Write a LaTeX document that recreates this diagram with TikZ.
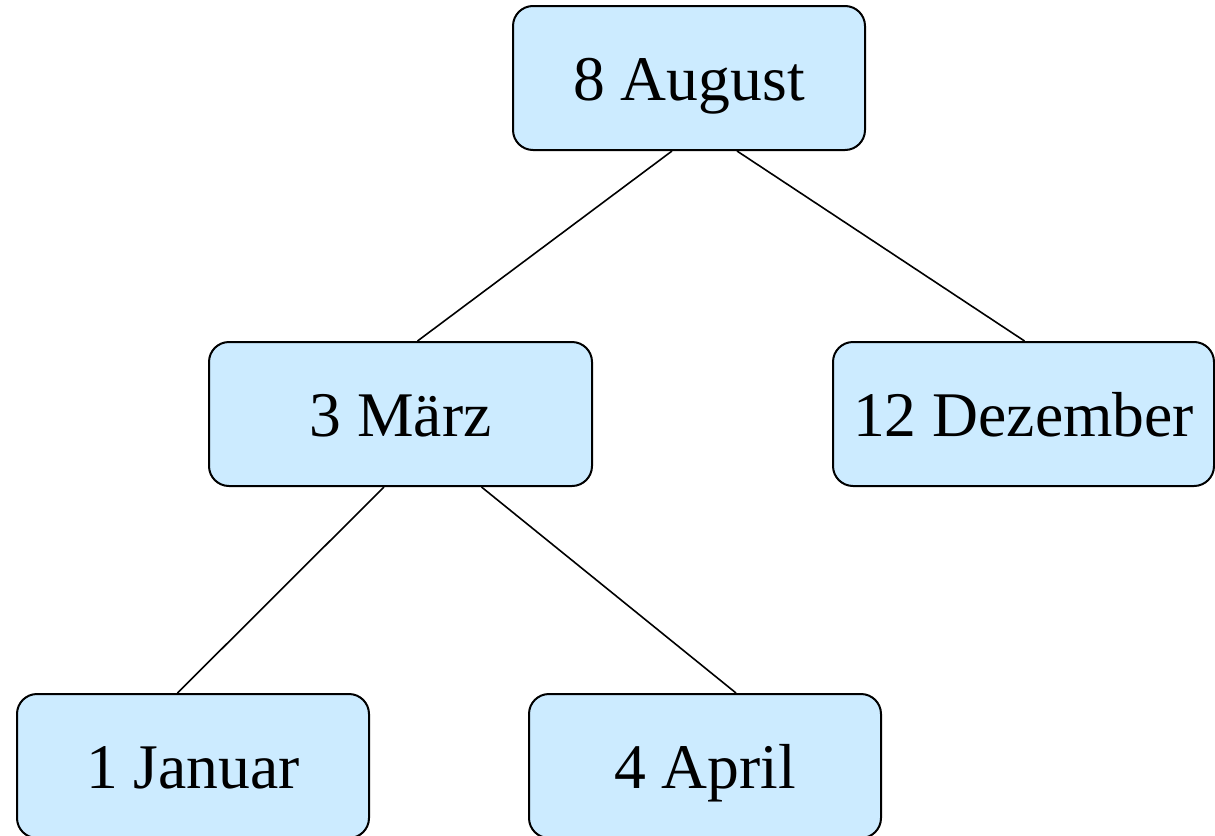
\documentclass[tikz,border=0pt]{standalone}
\usepackage{fontspec}
\setmainfont{Liberation Serif}
\definecolor{boxfill}{RGB}{204,235,255}
\begin{document}
\begin{tikzpicture}[x=0.5pt,y=-0.5pt,
  monthbox/.style={draw=black, line width=1pt, fill=boxfill, rounded corners=10pt,
    minimum height=72pt, inner sep=0pt, text height=22pt, text depth=0pt,
    font=\fontsize{31.8pt}{38pt}\selectfont},
  edge/.style={draw=black, line width=0.8pt}]
\useasboundingbox (0,0) rectangle (1215,835);
\node[monthbox, minimum width=176pt]   (aug) at (689,78)    {8 August};
\node[monthbox, minimum width=191.5pt] (mar) at (400.5,414) {3 März};
\node[monthbox, minimum width=190.5pt] (dez) at (1023.5,414) {12 Dezember};
\node[monthbox, minimum width=176pt]   (jan) at (193,766)   {1 Januar};
\node[monthbox, minimum width=176pt]   (apr) at (705,766)   {4 April};
\draw[edge] ([xshift=-8.5pt]aug.south) -- ([xshift=8.5pt]mar.north);
\draw[edge] ([xshift=24pt]aug.south) -- ([xshift=0.5pt]dez.north);
\draw[edge] ([xshift=-8.25pt]mar.south) -- ([xshift=-7.75pt]jan.north);
\draw[edge] ([xshift=40.5pt]mar.south) -- ([xshift=15.5pt]apr.north);
\end{tikzpicture}
\end{document}
